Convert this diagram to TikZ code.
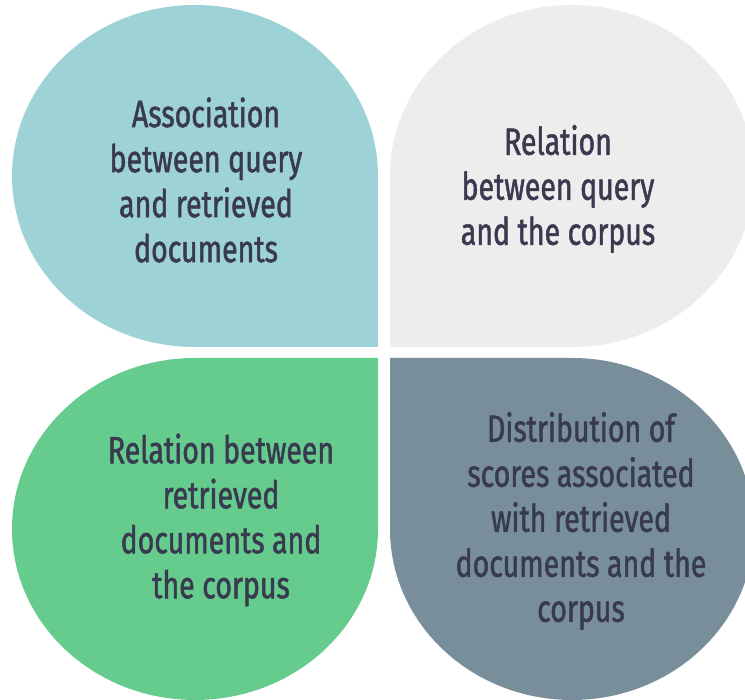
\documentclass[tikz,border=0pt]{standalone}
\usepackage{fontspec}
\setmainfont{Fira Sans}[FakeStretch=0.75,FakeBold=1.3]
\usetikzlibrary{positioning}
\definecolor{petalteal}{HTML}{9DD2D6}
\definecolor{petalgray}{HTML}{EDEDED}
\definecolor{petalgreen}{HTML}{66CC8E}
\definecolor{petalslate}{HTML}{788F9B}
\definecolor{petalink}{HTML}{393A50}
\tikzset{
    petal/.style={draw=none},
    label/.style={align=center,text=petalink,inner sep=0pt,
        font=\fontsize{38}{45}\selectfont},
}

\begin{document}
\begin{tikzpicture}[x=1pt,y=1pt]
    \clip (0,0) rectangle (745,700);
    \useasboundingbox (0,0) rectangle (745,700);

    % four petals, square corner to the middle
    \fill[petal,petalteal] (378,353) -- (195,353) arc[start angle=270,end angle=0,x radius=183,y radius=171] -- cycle;
    \fill[petal,petalgray] (390,353) -- (390,524) arc[start angle=180,end angle=-90,x radius=182,y radius=171] -- cycle;
    \fill[petal,petalgreen] (378,342) -- (378,171) arc[start angle=0,end angle=-270,x radius=183,y radius=171] -- cycle;
    \fill[petal,petalslate] (390,342) -- (572,342) arc[start angle=90,end angle=-180,x radius=182,y radius=171] -- cycle;

    \node[label] (assoc) at (206,520) {Association\\between query\\and retrieved\\documents};
    \node[label] (rel) at (558,511) {Relation\\between query\\and the corpus};
    \node[label] (relret) at (221,180) {Relation between\\retrieved\\documents and\\the corpus};
    \node[label] (dist) at (581,179) {Distribution of\\scores associated\\with retrieved\\documents and the\\corpus};
\end{tikzpicture}
\end{document}
